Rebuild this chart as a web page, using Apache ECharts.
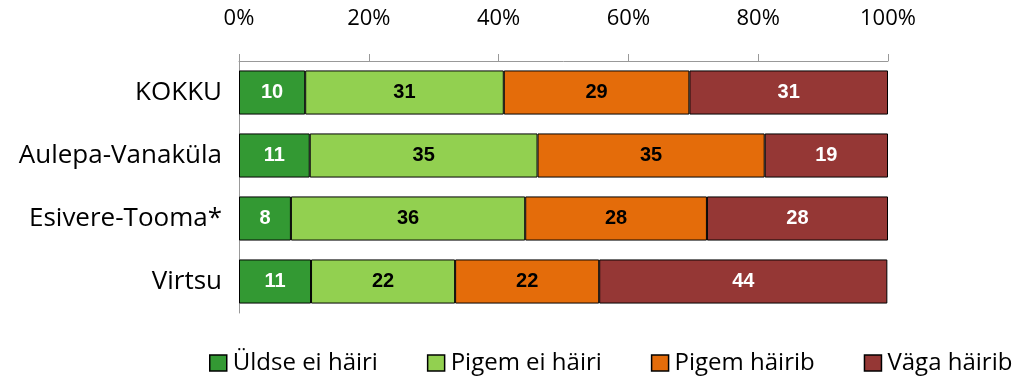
<!DOCTYPE html>
<html>
<head>
<meta charset="utf-8">
<script src="https://cdn.jsdelivr.net/npm/echarts@6/dist/echarts.min.js"></script>
<style>
  html, body { margin: 0; padding: 0; background: #fff; }
  #main { width: 1019px; height: 377px; }
</style>
</head>
<body>
<div id="main"></div>
<script>
// categories top to bottom
var categories = ['KOKKU', 'Aulepa-Vanaküla', 'Esivere-Tooma*', 'Virtsu']
var seriesNames = ['Üldse ei häiri', 'Pigem ei häiri', 'Pigem häirib', 'Väga häirib']
// shares in %
var uldseEi = [10.2, 10.9, 8.0, 11.1]
var pigemEi = [30.6, 35.1, 36.1, 22.2]
var pigemHairib = [28.6, 35.0, 28.0, 22.2]
var vagaHairib = [30.6, 19.0, 27.9, 44.4]
var colors = ['#339933', '#92D050', '#E46C0A', '#953735']
var labelColors = ['#fff', '#000', '#000', '#fff']

var values = [uldseEi, pigemEi, pigemHairib, vagaHairib]

var chart = echarts.init(document.getElementById('main'))

var series = seriesNames.map(function (name, i) {
  return {
    name: name,
    type: 'bar',
    stack: 'total',
    barCategoryGap: '30%',
    data: values[i],
    itemStyle: { color: colors[i], borderColor: '#000', borderWidth: 1 },
    label: {
      show: true,
      position: 'inside',
      color: labelColors[i],
      fontFamily: 'Liberation Sans, Arial',
      fontWeight: 'bold',
      fontSize: 20,
      formatter: function (p) { return Math.round(p.value) }
    }
  }
})

chart.setOption({
  animation: false,
  grid: { left: 239, right: 131, top: 61, bottom: 64 },
  legend: {
    top: 346,
    left: 204,
    width: 815,
    itemWidth: 17,
    itemHeight: 16,
    itemGap: 49,
    icon: 'rect',
    textStyle: { fontFamily: 'Open Sans', fontSize: 24, color: '#000', padding: [0, 0, 0, 1] },
    data: seriesNames.map(function (n, i) {
      return { name: n, itemStyle: { color: colors[i], borderColor: '#000', borderWidth: 1.5 } }
    })
  },
  xAxis: {
    type: 'value',
    position: 'top',
    min: 0,
    max: 100,
    interval: 20,
    axisLine: { show: true, lineStyle: { color: '#999' } },
    axisTick: { show: true, length: 7, lineStyle: { color: '#999' } },
    splitLine: { show: false },
    axisLabel: {
      formatter: '{value}%',
      color: '#000',
      fontFamily: 'Open Sans',
      fontSize: 22,
      margin: 31
    }
  },
  yAxis: {
    type: 'category',
    inverse: true,
    data: categories,
    axisLine: { show: true, lineStyle: { color: '#999' } },
    axisTick: { show: false },
    axisLabel: { color: '#000', fontFamily: 'Open Sans', fontSize: 26, margin: 17 }
  },
  series: series
})
</script>
</body>
</html>
